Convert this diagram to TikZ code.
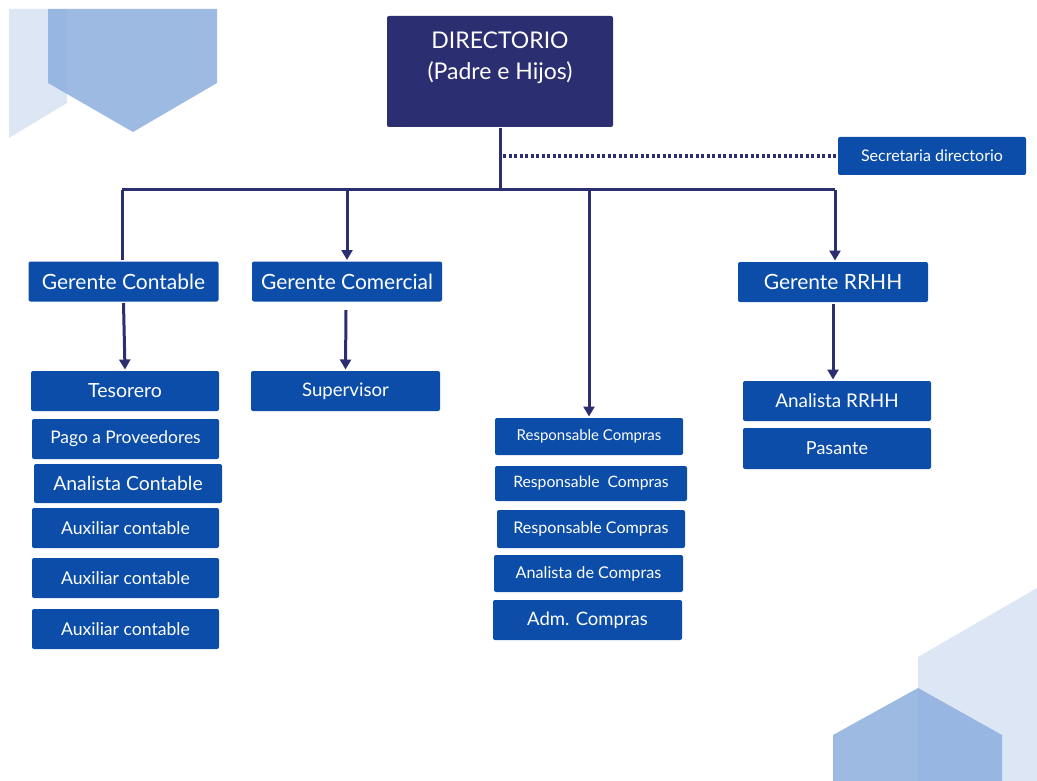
\documentclass[tikz,border=0pt]{standalone}
\usepackage{fontspec}
\setmainfont{Lato}
\usetikzlibrary{arrows.meta}
\definecolor{boxblue}{HTML}{0B4DA8}
\definecolor{navy}{HTML}{2B2E70}
\definecolor{palebg}{HTML}{DCE6F4}
\definecolor{midbg}{HTML}{8CAEDE}

\begin{document}
\begin{tikzpicture}[x=1pt, y=-1pt, line width=3pt, color=navy,
        arr/.style={-{Triangle[length=10pt,width=11pt]}},
        every node/.append style={inner sep=0pt}]
      \tikzstyle{box} = [fill=boxblue, rounded corners=2pt, text=white, align=center]
      \tikzstyle{wide} = [box, minimum width=190pt, minimum height=40pt]
      \useasboundingbox (0,0) rectangle (1037,781);
      % background shapes
      \fill[palebg] (9,9) -- (67,9) -- (67,103) -- (9,138) -- cycle;
      \fill[midbg, fill opacity=0.85] (48,9) -- (217,9) -- (217,83) -- (133,132) -- (48,83) -- cycle;
      \fill[palebg] (918,657) -- (1037,588) -- (1037,781) -- (918,781) -- cycle;
      \fill[midbg, fill opacity=0.85] (833,781) -- (833,735) -- (918,688) -- (1002,735) -- (1002,781) -- cycle;

      \node (dir) [box, fill=navy, minimum width=226pt, minimum height=111pt] at (500,71.5) {};
      \node [text=white, font=\fontsize{23}{31}\selectfont, align=center] at (500,58) {DIRECTORIO\\(Padre e Hijos)};
      \node (sec) [box, minimum width=188pt, minimum height=38pt, font=\fontsize{16}{18}\selectfont] at (932,156) {Secretaria directorio};

      \node (gcont) [wide, font=\fontsize{21}{24}\selectfont] at (123.5,281.5) {Gerente Contable};
      \node (gcom) [wide, font=\fontsize{21}{24}\selectfont] at (347,281.5) {Gerente Comercial};
      \node (grrhh) [wide, font=\fontsize{21}{24}\selectfont] at (833,282) {Gerente RRHH};

      \node (tes) [wide, minimum width=188pt, font=\fontsize{19.5}{22}\selectfont] at (125,391) {Tesorero};
      \node (pago) [wide, minimum width=187pt, font=\fontsize{17.4}{20}\selectfont] at (125.5,439) {Pago a Proveedores};
      \node (acont) [wide, minimum width=188pt, minimum height=39pt, font=\fontsize{19.4}{22}\selectfont] at (128,483.5) {Analista Contable};
      \node (aux1) [wide, minimum width=187pt, font=\fontsize{17.6}{20}\selectfont] at (125.5,528) {Auxiliar contable};
      \node (aux2) [wide, minimum width=187pt, font=\fontsize{17.6}{20}\selectfont] at (125.5,578) {Auxiliar contable};
      \node (aux3) [wide, minimum width=187pt, font=\fontsize{17.6}{20}\selectfont] at (125.5,629) {Auxiliar contable};

      \node (sup) [wide, minimum width=189pt, font=\fontsize{18.6}{21}\selectfont] at (345.5,391) {Supervisor};

      \node (resp1) [wide, minimum width=188pt, minimum height=37pt, font=\fontsize{15}{17}\selectfont] at (589,436.5) {Responsable Compras};
      \node (resp2) [wide, minimum width=192pt, minimum height=35pt, font=\fontsize{15.7}{18}\selectfont] at (591,483.5) {Responsable\ \ Compras};
      \node (resp3) [wide, minimum width=188pt, minimum height=38pt, font=\fontsize{16.1}{18}\selectfont] at (591,529) {Responsable Compras};
      \node (anacom) [wide, minimum width=189pt, minimum height=37pt, font=\fontsize{16.2}{18}\selectfont] at (588.5,573.5) {Analista de Compras};
      \node (adm) [wide, minimum width=189pt, font=\fontsize{18.5}{21}\selectfont] at (587.5,620) {Adm. Compras};

      \node (arrhh) [wide, minimum width=188pt, font=\fontsize{18.9}{21}\selectfont] at (837,401) {Analista RRHH};
      \node (pas) [wide, minimum width=188pt, minimum height=41pt, font=\fontsize{18}{20}\selectfont] at (837,448.5) {Pasante};

      \coordinate (busL) at (122,190);
      \coordinate (busR) at (835,190);
      \draw (dir.south) -- (dir.south |- busL);
      \draw (busL) -- (busR);
      \draw (busL) -- (busL |- gcont.north);
      \draw[arr] (gcom.north |- busL) -- (gcom.north);
      \draw[arr] (resp1.north |- busL) -- (resp1.north);
      \draw[arr] (busR) -- (busR |- grrhh.north);
      \draw[dotted, line width=3.5pt, dash pattern=on 3pt off 2.5pt] (503,156) -- (sec.west);

      \draw[arr] (gcont.south) -- (tes.north);
      \draw[arr] (346,310) -- (sup.north);
      \draw[arr] (grrhh.south) -- (grrhh.south |- arrhh.north);
    \end{tikzpicture}
\end{document}
